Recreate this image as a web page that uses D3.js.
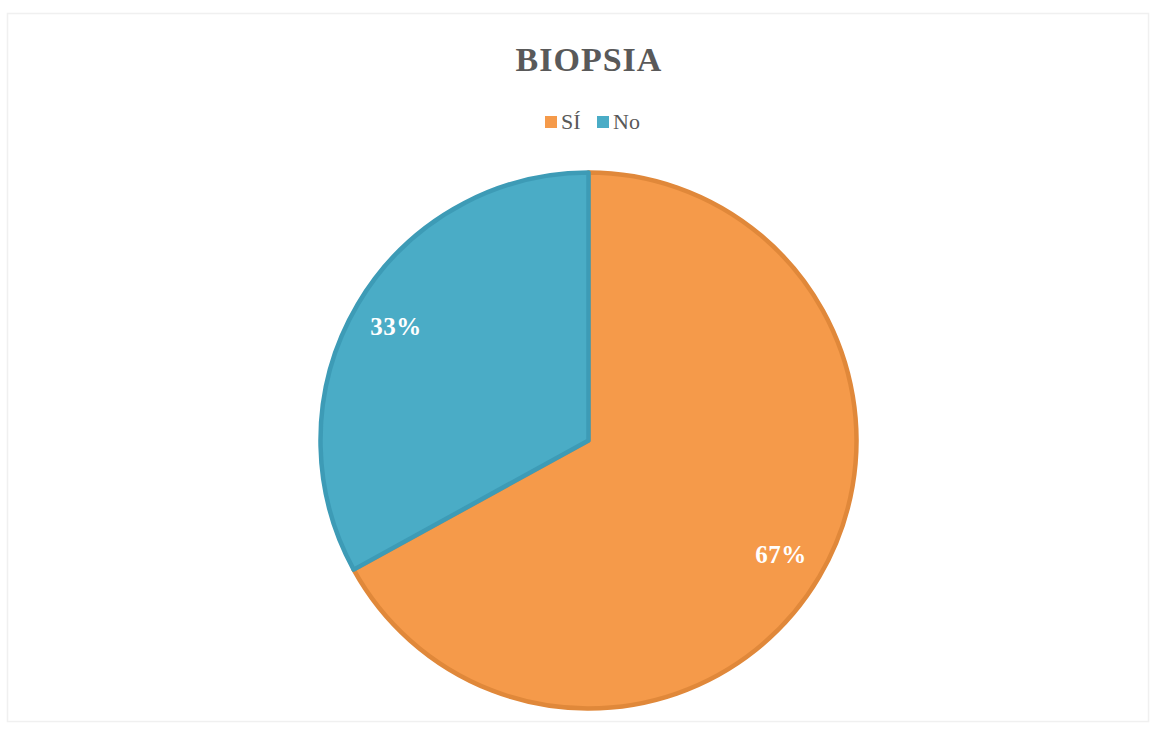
<!DOCTYPE html>
<html>
<head>
<meta charset="utf-8">
<script src="https://cdn.jsdelivr.net/npm/d3@7"></script>
<style>
  html, body { margin: 0; padding: 0; background: #ffffff; }
  svg { display: block; }
</style>
</head>
<body>
<svg id="chart" width="1156" height="729"></svg>
<script>
// Biopsy answers and their share of the total
const categories = ["SÍ", "No"];
const values = [67, 33];
const fills = ["#F59A4A", "#4AACC6"];
const edges = ["#E0883A", "#3D9BB6"];

const W = 1156, H = 729;
const svg = d3.select("#chart");

// faint chart frame
svg.append("rect")
  .attr("x", 7.5).attr("y", 13.5)
  .attr("width", 1141).attr("height", 708)
  .attr("fill", "#ffffff")
  .attr("stroke", "#f0f0f0")
  .attr("stroke-width", 1.5);

// title
svg.append("text")
  .attr("x", 589).attr("y", 71)
  .attr("text-anchor", "middle")
  .attr("font-family", "'Liberation Serif', 'DejaVu Serif', serif")
  .attr("font-weight", "bold")
  .attr("font-size", 34)
  .attr("letter-spacing", 1)
  .attr("fill", "#595959")
  .text("BIOPSIA");

// legend
const legend = svg.append("g").attr("font-family", "'Liberation Serif', 'DejaVu Serif', serif");
const legendX = [545, 597];
categories.forEach((c, i) => {
  const g = legend.append("g").attr("transform", `translate(${legendX[i]},0)`);
  g.append("rect").attr("x", 0).attr("y", 116).attr("width", 12).attr("height", 12).attr("fill", fills[i]);
  g.append("text").attr("x", 16).attr("y", 129)
    .attr("font-size", 22).attr("fill", "#595959").text(c);
});

// pie
const cx = 588.5, cy = 440.5, r = 268;
const pie = d3.pie().sort(null).value(d => d)(values);
const arc = d3.arc().innerRadius(0).outerRadius(r);
const labelArc = d3.arc().innerRadius(r * 0.835).outerRadius(r * 0.835);

const g = svg.append("g").attr("transform", `translate(${cx},${cy})`);
g.selectAll("path.slice")
  .data(pie)
  .join("path")
  .attr("class", "slice")
  .attr("d", arc)
  .attr("fill", (d, i) => fills[i])
  .attr("stroke", (d, i) => edges[i])
  .attr("stroke-width", 4.5)
  .attr("stroke-linejoin", "round");

// percentage labels
g.selectAll("text.pct")
  .data(pie)
  .join("text")
  .attr("class", "pct")
  .attr("x", d => labelArc.centroid(d)[0])
  .attr("y", d => labelArc.centroid(d)[1])
  .attr("dy", "0.35em")
  .attr("text-anchor", "middle")
  .attr("font-family", "'Liberation Serif', 'DejaVu Serif', serif")
  .attr("font-weight", "bold")
  .attr("font-size", 25)
  .attr("letter-spacing", 0.5)
  .attr("fill", "#ffffff")
  .text(d => d.value + "%");
</script>
</body>
</html>
